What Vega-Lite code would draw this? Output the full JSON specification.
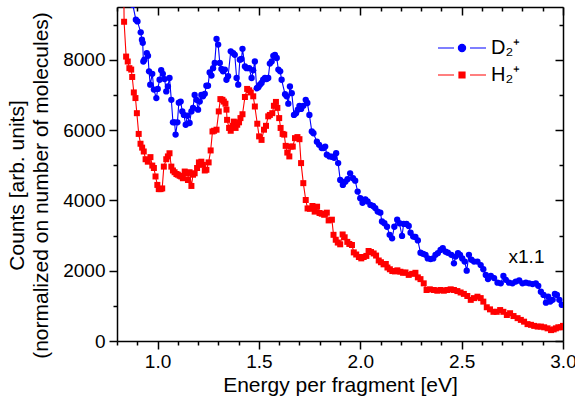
{
  "$schema": "https://vega.github.io/schema/vega-lite/v6.json",
  "width": 446,
  "height": 334,
  "autosize": {"type": "none"},
  "padding": {"left": 117, "top": 7, "right": 12, "bottom": 60},
  "background": "white",
  "config": {
    "view": {"stroke": null},
    "axis": {
      "labelFont": "Liberation Sans", "titleFont": "Liberation Sans",
      "labelFontSize": 19, "titleFontSize": 21, "titleFontWeight": "normal",
      "domainColor": "black", "tickColor": "black", "labelColor": "black", "titleColor": "black",
      "grid": false, "domainWidth": 1.5, "tickWidth": 1.5
    }
  },
  "datasets": {
    "spectra": [
      {"s":"D₂⁺","E":0.862,"v":9900},{"s":"D₂⁺","E":0.878,"v":9560},{"s":"D₂⁺","E":0.893,"v":9140},{"s":"D₂⁺","E":0.901,"v":9090},
      {"s":"D₂⁺","E":0.917,"v":8780},{"s":"D₂⁺","E":0.923,"v":8570},{"s":"D₂⁺","E":0.927,"v":8480},{"s":"D₂⁺","E":0.930,"v":7950},
      {"s":"D₂⁺","E":0.935,"v":8000},{"s":"D₂⁺","E":0.947,"v":8190},{"s":"D₂⁺","E":0.953,"v":8110},{"s":"D₂⁺","E":0.958,"v":7670},
      {"s":"D₂⁺","E":0.964,"v":7290},{"s":"D₂⁺","E":0.974,"v":7600},{"s":"D₂⁺","E":0.982,"v":7150},{"s":"D₂⁺","E":0.994,"v":6910},
      {"s":"D₂⁺","E":1.001,"v":7170},{"s":"D₂⁺","E":1.010,"v":7430},{"s":"D₂⁺","E":1.018,"v":7700},{"s":"D₂⁺","E":1.026,"v":7600},
      {"s":"D₂⁺","E":1.035,"v":7450},{"s":"D₂⁺","E":1.043,"v":7100},{"s":"D₂⁺","E":1.051,"v":7240},{"s":"D₂⁺","E":1.059,"v":7480},
      {"s":"D₂⁺","E":1.068,"v":6860},{"s":"D₂⁺","E":1.076,"v":6220},{"s":"D₂⁺","E":1.084,"v":6220},{"s":"D₂⁺","E":1.089,"v":5870},
      {"s":"D₂⁺","E":1.098,"v":6220},{"s":"D₂⁺","E":1.105,"v":6780},{"s":"D₂⁺","E":1.114,"v":6810},{"s":"D₂⁺","E":1.122,"v":6530},
      {"s":"D₂⁺","E":1.130,"v":6430},{"s":"D₂⁺","E":1.139,"v":6150},{"s":"D₂⁺","E":1.147,"v":6410},{"s":"D₂⁺","E":1.158,"v":6200},
      {"s":"D₂⁺","E":1.167,"v":6530},{"s":"D₂⁺","E":1.175,"v":6630},{"s":"D₂⁺","E":1.183,"v":7000},{"s":"D₂⁺","E":1.192,"v":6860},
      {"s":"D₂⁺","E":1.200,"v":6580},{"s":"D₂⁺","E":1.208,"v":6810},{"s":"D₂⁺","E":1.216,"v":7000},{"s":"D₂⁺","E":1.224,"v":6960},
      {"s":"D₂⁺","E":1.233,"v":7030},{"s":"D₂⁺","E":1.241,"v":7260},{"s":"D₂⁺","E":1.249,"v":7260},{"s":"D₂⁺","E":1.257,"v":7640},
      {"s":"D₂⁺","E":1.266,"v":7550},{"s":"D₂⁺","E":1.274,"v":7760},{"s":"D₂⁺","E":1.282,"v":7910},{"s":"D₂⁺","E":1.291,"v":8590},
      {"s":"D₂⁺","E":1.299,"v":8430},{"s":"D₂⁺","E":1.307,"v":7910},{"s":"D₂⁺","E":1.315,"v":7740},{"s":"D₂⁺","E":1.323,"v":7670},
      {"s":"D₂⁺","E":1.332,"v":7720},{"s":"D₂⁺","E":1.340,"v":7430},{"s":"D₂⁺","E":1.348,"v":7530},{"s":"D₂⁺","E":1.361,"v":8240},
      {"s":"D₂⁺","E":1.373,"v":8190},{"s":"D₂⁺","E":1.381,"v":8140},{"s":"D₂⁺","E":1.390,"v":7480},{"s":"D₂⁺","E":1.398,"v":7290},
      {"s":"D₂⁺","E":1.406,"v":8000},{"s":"D₂⁺","E":1.414,"v":8020},{"s":"D₂⁺","E":1.419,"v":8310},{"s":"D₂⁺","E":1.431,"v":7810},
      {"s":"D₂⁺","E":1.439,"v":7760},{"s":"D₂⁺","E":1.452,"v":7760},{"s":"D₂⁺","E":1.464,"v":7480},{"s":"D₂⁺","E":1.472,"v":7700},
      {"s":"D₂⁺","E":1.480,"v":7950},{"s":"D₂⁺","E":1.489,"v":7190},{"s":"D₂⁺","E":1.497,"v":7220},{"s":"D₂⁺","E":1.505,"v":7290},
      {"s":"D₂⁺","E":1.513,"v":7340},{"s":"D₂⁺","E":1.521,"v":7430},{"s":"D₂⁺","E":1.530,"v":7480},{"s":"D₂⁺","E":1.538,"v":7450},
      {"s":"D₂⁺","E":1.546,"v":7480},{"s":"D₂⁺","E":1.554,"v":7890},{"s":"D₂⁺","E":1.563,"v":7950},{"s":"D₂⁺","E":1.571,"v":8110},
      {"s":"D₂⁺","E":1.579,"v":8140},{"s":"D₂⁺","E":1.588,"v":8050},{"s":"D₂⁺","E":1.596,"v":7720},{"s":"D₂⁺","E":1.605,"v":7670},
      {"s":"D₂⁺","E":1.612,"v":7430},{"s":"D₂⁺","E":1.629,"v":7020},{"s":"D₂⁺","E":1.637,"v":6960},{"s":"D₂⁺","E":1.645,"v":6750},
      {"s":"D₂⁺","E":1.653,"v":7240},{"s":"D₂⁺","E":1.662,"v":7050},{"s":"D₂⁺","E":1.673,"v":6430},{"s":"D₂⁺","E":1.683,"v":6480},
      {"s":"D₂⁺","E":1.692,"v":6580},{"s":"D₂⁺","E":1.700,"v":6690},{"s":"D₂⁺","E":1.708,"v":6600},{"s":"D₂⁺","E":1.719,"v":6690},
      {"s":"D₂⁺","E":1.731,"v":6860},{"s":"D₂⁺","E":1.739,"v":6770},{"s":"D₂⁺","E":1.749,"v":6430},{"s":"D₂⁺","E":1.761,"v":5960},
      {"s":"D₂⁺","E":1.769,"v":5910},{"s":"D₂⁺","E":1.786,"v":5670},{"s":"D₂⁺","E":1.797,"v":5580},{"s":"D₂⁺","E":1.810,"v":5490},
      {"s":"D₂⁺","E":1.819,"v":5490},{"s":"D₂⁺","E":1.827,"v":5530},{"s":"D₂⁺","E":1.835,"v":5300},{"s":"D₂⁺","E":1.848,"v":5250},
      {"s":"D₂⁺","E":1.860,"v":5240},{"s":"D₂⁺","E":1.871,"v":5210},{"s":"D₂⁺","E":1.881,"v":5340},{"s":"D₂⁺","E":1.891,"v":5060},
      {"s":"D₂⁺","E":1.901,"v":4580},{"s":"D₂⁺","E":1.914,"v":4440},{"s":"D₂⁺","E":1.926,"v":4530},{"s":"D₂⁺","E":1.937,"v":4600},
      {"s":"D₂⁺","E":1.950,"v":4770},{"s":"D₂⁺","E":1.964,"v":4630},{"s":"D₂⁺","E":1.975,"v":4560},{"s":"D₂⁺","E":1.987,"v":4250},
      {"s":"D₂⁺","E":2.000,"v":4060},{"s":"D₂⁺","E":2.011,"v":3930},{"s":"D₂⁺","E":2.025,"v":4030},{"s":"D₂⁺","E":2.036,"v":3970},
      {"s":"D₂⁺","E":2.050,"v":3870},{"s":"D₂⁺","E":2.063,"v":3840},{"s":"D₂⁺","E":2.074,"v":3780},{"s":"D₂⁺","E":2.086,"v":3680},
      {"s":"D₂⁺","E":2.099,"v":3650},{"s":"D₂⁺","E":2.107,"v":3400},{"s":"D₂⁺","E":2.119,"v":3350},{"s":"D₂⁺","E":2.132,"v":3250},
      {"s":"D₂⁺","E":2.145,"v":3020},{"s":"D₂⁺","E":2.157,"v":2920},{"s":"D₂⁺","E":2.168,"v":3250},{"s":"D₂⁺","E":2.182,"v":3450},
      {"s":"D₂⁺","E":2.193,"v":3350},{"s":"D₂⁺","E":2.206,"v":2990},{"s":"D₂⁺","E":2.214,"v":3330},{"s":"D₂⁺","E":2.228,"v":3330},
      {"s":"D₂⁺","E":2.239,"v":3270},{"s":"D₂⁺","E":2.248,"v":3080},{"s":"D₂⁺","E":2.261,"v":2970},{"s":"D₂⁺","E":2.272,"v":2960},
      {"s":"D₂⁺","E":2.284,"v":2860},{"s":"D₂⁺","E":2.297,"v":2510},{"s":"D₂⁺","E":2.310,"v":2480},{"s":"D₂⁺","E":2.322,"v":2450},
      {"s":"D₂⁺","E":2.333,"v":2350},{"s":"D₂⁺","E":2.347,"v":2330},{"s":"D₂⁺","E":2.360,"v":2350},{"s":"D₂⁺","E":2.371,"v":2450},
      {"s":"D₂⁺","E":2.383,"v":2500},{"s":"D₂⁺","E":2.396,"v":2590},{"s":"D₂⁺","E":2.407,"v":2640},{"s":"D₂⁺","E":2.421,"v":2540},
      {"s":"D₂⁺","E":2.432,"v":2510},{"s":"D₂⁺","E":2.449,"v":2450},{"s":"D₂⁺","E":2.462,"v":2210},{"s":"D₂⁺","E":2.470,"v":2400},
      {"s":"D₂⁺","E":2.482,"v":2500},{"s":"D₂⁺","E":2.492,"v":2450},{"s":"D₂⁺","E":2.503,"v":2350},{"s":"D₂⁺","E":2.515,"v":2260},
      {"s":"D₂⁺","E":2.525,"v":2000},{"s":"D₂⁺","E":2.536,"v":2450},{"s":"D₂⁺","E":2.548,"v":2310},{"s":"D₂⁺","E":2.561,"v":2260},
      {"s":"D₂⁺","E":2.578,"v":2260},{"s":"D₂⁺","E":2.594,"v":2160},{"s":"D₂⁺","E":2.607,"v":2040},{"s":"D₂⁺","E":2.619,"v":1880},
      {"s":"D₂⁺","E":2.630,"v":1760},{"s":"D₂⁺","E":2.644,"v":1850},{"s":"D₂⁺","E":2.660,"v":1790},{"s":"D₂⁺","E":2.677,"v":1660},
      {"s":"D₂⁺","E":2.693,"v":1640},{"s":"D₂⁺","E":2.706,"v":1850},{"s":"D₂⁺","E":2.718,"v":1740},{"s":"D₂⁺","E":2.734,"v":1660},
      {"s":"D₂⁺","E":2.751,"v":1640},{"s":"D₂⁺","E":2.767,"v":1690},{"s":"D₂⁺","E":2.784,"v":1720},{"s":"D₂⁺","E":2.800,"v":1640},
      {"s":"D₂⁺","E":2.817,"v":1660},{"s":"D₂⁺","E":2.833,"v":1640},{"s":"D₂⁺","E":2.850,"v":1620},{"s":"D₂⁺","E":2.866,"v":1640},
      {"s":"D₂⁺","E":2.878,"v":1570},{"s":"D₂⁺","E":2.891,"v":1400},{"s":"D₂⁺","E":2.904,"v":1310},{"s":"D₂⁺","E":2.916,"v":1090},
      {"s":"D₂⁺","E":2.927,"v":1260},{"s":"D₂⁺","E":2.937,"v":1120},{"s":"D₂⁺","E":2.949,"v":1170},{"s":"D₂⁺","E":2.960,"v":1340},
      {"s":"D₂⁺","E":2.970,"v":1310},{"s":"D₂⁺","E":2.982,"v":1170},{"s":"D₂⁺","E":2.994,"v":1030},
      {"s":"H₂⁺","E":0.832,"v":11000},{"s":"H₂⁺","E":0.835,"v":9080},{"s":"H₂⁺","E":0.845,"v":8090},{"s":"H₂⁺","E":0.853,"v":7950},
      {"s":"H₂⁺","E":0.861,"v":7760},{"s":"H₂⁺","E":0.870,"v":7720},{"s":"H₂⁺","E":0.875,"v":7510},{"s":"H₂⁺","E":0.883,"v":7070},
      {"s":"H₂⁺","E":0.891,"v":6910},{"s":"H₂⁺","E":0.898,"v":6480},{"s":"H₂⁺","E":0.907,"v":5890},{"s":"H₂⁺","E":0.916,"v":5610},
      {"s":"H₂⁺","E":0.924,"v":5500},{"s":"H₂⁺","E":0.932,"v":5390},{"s":"H₂⁺","E":0.941,"v":5170},{"s":"H₂⁺","E":0.952,"v":5100},
      {"s":"H₂⁺","E":0.965,"v":5230},{"s":"H₂⁺","E":0.974,"v":4990},{"s":"H₂⁺","E":0.982,"v":4920},{"s":"H₂⁺","E":0.990,"v":4680},
      {"s":"H₂⁺","E":0.999,"v":4440},{"s":"H₂⁺","E":1.006,"v":4320},{"s":"H₂⁺","E":1.015,"v":4320},{"s":"H₂⁺","E":1.023,"v":4340},
      {"s":"H₂⁺","E":1.031,"v":4960},{"s":"H₂⁺","E":1.043,"v":5170},{"s":"H₂⁺","E":1.051,"v":5250},{"s":"H₂⁺","E":1.059,"v":5340},
      {"s":"H₂⁺","E":1.068,"v":4960},{"s":"H₂⁺","E":1.076,"v":4850},{"s":"H₂⁺","E":1.084,"v":4800},{"s":"H₂⁺","E":1.093,"v":4750},
      {"s":"H₂⁺","E":1.100,"v":4730},{"s":"H₂⁺","E":1.109,"v":4700},{"s":"H₂⁺","E":1.117,"v":4680},{"s":"H₂⁺","E":1.125,"v":4630},
      {"s":"H₂⁺","E":1.134,"v":4820},{"s":"H₂⁺","E":1.142,"v":4770},{"s":"H₂⁺","E":1.150,"v":4580},{"s":"H₂⁺","E":1.158,"v":4800},
      {"s":"H₂⁺","E":1.167,"v":4410},{"s":"H₂⁺","E":1.175,"v":4730},{"s":"H₂⁺","E":1.183,"v":4770},{"s":"H₂⁺","E":1.195,"v":4920},
      {"s":"H₂⁺","E":1.204,"v":5080},{"s":"H₂⁺","E":1.216,"v":5100},{"s":"H₂⁺","E":1.224,"v":5010},{"s":"H₂⁺","E":1.233,"v":4850},
      {"s":"H₂⁺","E":1.241,"v":4870},{"s":"H₂⁺","E":1.252,"v":5080},{"s":"H₂⁺","E":1.262,"v":5420},{"s":"H₂⁺","E":1.271,"v":5960},
      {"s":"H₂⁺","E":1.279,"v":5980},{"s":"H₂⁺","E":1.291,"v":6010},{"s":"H₂⁺","E":1.302,"v":6530},{"s":"H₂⁺","E":1.310,"v":6880},
      {"s":"H₂⁺","E":1.320,"v":6860},{"s":"H₂⁺","E":1.327,"v":6810},{"s":"H₂⁺","E":1.335,"v":6750},{"s":"H₂⁺","E":1.340,"v":6580},
      {"s":"H₂⁺","E":1.343,"v":6290},{"s":"H₂⁺","E":1.353,"v":6060},{"s":"H₂⁺","E":1.361,"v":5980},{"s":"H₂⁺","E":1.370,"v":6120},
      {"s":"H₂⁺","E":1.376,"v":6240},{"s":"H₂⁺","E":1.385,"v":6060},{"s":"H₂⁺","E":1.393,"v":6150},{"s":"H₂⁺","E":1.402,"v":6220},
      {"s":"H₂⁺","E":1.409,"v":6340},{"s":"H₂⁺","E":1.419,"v":6450},{"s":"H₂⁺","E":1.431,"v":6940},{"s":"H₂⁺","E":1.442,"v":7170},
      {"s":"H₂⁺","E":1.452,"v":7130},{"s":"H₂⁺","E":1.460,"v":7070},{"s":"H₂⁺","E":1.472,"v":6960},{"s":"H₂⁺","E":1.480,"v":6670},
      {"s":"H₂⁺","E":1.492,"v":6180},{"s":"H₂⁺","E":1.501,"v":5820},{"s":"H₂⁺","E":1.513,"v":5720},{"s":"H₂⁺","E":1.525,"v":6010},
      {"s":"H₂⁺","E":1.535,"v":6120},{"s":"H₂⁺","E":1.546,"v":6390},{"s":"H₂⁺","E":1.554,"v":6430},{"s":"H₂⁺","E":1.566,"v":6480},
      {"s":"H₂⁺","E":1.574,"v":6690},{"s":"H₂⁺","E":1.584,"v":6800},{"s":"H₂⁺","E":1.591,"v":6630},{"s":"H₂⁺","E":1.600,"v":6340},
      {"s":"H₂⁺","E":1.607,"v":6060},{"s":"H₂⁺","E":1.617,"v":5890},{"s":"H₂⁺","E":1.625,"v":5870},{"s":"H₂⁺","E":1.632,"v":5550},
      {"s":"H₂⁺","E":1.640,"v":5360},{"s":"H₂⁺","E":1.650,"v":5250},{"s":"H₂⁺","E":1.657,"v":5530},{"s":"H₂⁺","E":1.667,"v":5530},
      {"s":"H₂⁺","E":1.678,"v":5770},{"s":"H₂⁺","E":1.690,"v":5800},{"s":"H₂⁺","E":1.700,"v":5740},{"s":"H₂⁺","E":1.708,"v":5060},
      {"s":"H₂⁺","E":1.719,"v":4490},{"s":"H₂⁺","E":1.731,"v":4010},{"s":"H₂⁺","E":1.740,"v":3770},{"s":"H₂⁺","E":1.752,"v":3760},
      {"s":"H₂⁺","E":1.764,"v":3840},{"s":"H₂⁺","E":1.775,"v":3680},{"s":"H₂⁺","E":1.787,"v":3820},{"s":"H₂⁺","E":1.799,"v":3640},
      {"s":"H₂⁺","E":1.810,"v":3620},{"s":"H₂⁺","E":1.822,"v":3590},{"s":"H₂⁺","E":1.835,"v":3650},{"s":"H₂⁺","E":1.844,"v":3430},
      {"s":"H₂⁺","E":1.860,"v":3450},{"s":"H₂⁺","E":1.868,"v":3020},{"s":"H₂⁺","E":1.879,"v":2880},{"s":"H₂⁺","E":1.889,"v":2800},
      {"s":"H₂⁺","E":1.901,"v":2750},{"s":"H₂⁺","E":1.913,"v":3030},{"s":"H₂⁺","E":1.923,"v":2950},{"s":"H₂⁺","E":1.936,"v":2820},
      {"s":"H₂⁺","E":1.946,"v":2760},{"s":"H₂⁺","E":1.959,"v":2730},{"s":"H₂⁺","E":1.968,"v":2520},{"s":"H₂⁺","E":1.980,"v":2460},
      {"s":"H₂⁺","E":1.993,"v":2390},{"s":"H₂⁺","E":2.005,"v":2350},{"s":"H₂⁺","E":2.017,"v":2390},{"s":"H₂⁺","E":2.030,"v":2420},
      {"s":"H₂⁺","E":2.041,"v":2560},{"s":"H₂⁺","E":2.053,"v":2530},{"s":"H₂⁺","E":2.066,"v":2490},{"s":"H₂⁺","E":2.078,"v":2430},
      {"s":"H₂⁺","E":2.091,"v":2290},{"s":"H₂⁺","E":2.102,"v":2240},{"s":"H₂⁺","E":2.115,"v":2180},{"s":"H₂⁺","E":2.126,"v":2190},
      {"s":"H₂⁺","E":2.134,"v":2090},{"s":"H₂⁺","E":2.146,"v":2040},{"s":"H₂⁺","E":2.158,"v":1990},{"s":"H₂⁺","E":2.171,"v":1980},
      {"s":"H₂⁺","E":2.183,"v":2010},{"s":"H₂⁺","E":2.198,"v":1970},{"s":"H₂⁺","E":2.211,"v":1940},{"s":"H₂⁺","E":2.223,"v":1950},
      {"s":"H₂⁺","E":2.239,"v":1880},{"s":"H₂⁺","E":2.256,"v":1910},{"s":"H₂⁺","E":2.272,"v":1940},{"s":"H₂⁺","E":2.284,"v":1810},
      {"s":"H₂⁺","E":2.297,"v":1760},{"s":"H₂⁺","E":2.313,"v":1640},{"s":"H₂⁺","E":2.327,"v":1450},{"s":"H₂⁺","E":2.343,"v":1470},
      {"s":"H₂⁺","E":2.363,"v":1450},{"s":"H₂⁺","E":2.380,"v":1430},{"s":"H₂⁺","E":2.396,"v":1450},{"s":"H₂⁺","E":2.412,"v":1430},
      {"s":"H₂⁺","E":2.429,"v":1450},{"s":"H₂⁺","E":2.446,"v":1470},{"s":"H₂⁺","E":2.462,"v":1450},{"s":"H₂⁺","E":2.479,"v":1420},
      {"s":"H₂⁺","E":2.495,"v":1380},{"s":"H₂⁺","E":2.511,"v":1340},{"s":"H₂⁺","E":2.528,"v":1280},{"s":"H₂⁺","E":2.545,"v":1170},
      {"s":"H₂⁺","E":2.561,"v":1220},{"s":"H₂⁺","E":2.578,"v":1260},{"s":"H₂⁺","E":2.594,"v":1220},{"s":"H₂⁺","E":2.607,"v":1120},
      {"s":"H₂⁺","E":2.624,"v":960},{"s":"H₂⁺","E":2.640,"v":900},{"s":"H₂⁺","E":2.657,"v":830},{"s":"H₂⁺","E":2.673,"v":830},
      {"s":"H₂⁺","E":2.690,"v":880},{"s":"H₂⁺","E":2.706,"v":830},{"s":"H₂⁺","E":2.723,"v":740},{"s":"H₂⁺","E":2.739,"v":790},
      {"s":"H₂⁺","E":2.756,"v":710},{"s":"H₂⁺","E":2.776,"v":650},{"s":"H₂⁺","E":2.792,"v":600},{"s":"H₂⁺","E":2.808,"v":550},
      {"s":"H₂⁺","E":2.825,"v":480},{"s":"H₂⁺","E":2.842,"v":460},{"s":"H₂⁺","E":2.858,"v":430},{"s":"H₂⁺","E":2.875,"v":410},
      {"s":"H₂⁺","E":2.891,"v":410},{"s":"H₂⁺","E":2.907,"v":390},{"s":"H₂⁺","E":2.924,"v":360},{"s":"H₂⁺","E":2.941,"v":310},
      {"s":"H₂⁺","E":2.954,"v":330},{"s":"H₂⁺","E":2.965,"v":360},{"s":"H₂⁺","E":2.977,"v":390},{"s":"H₂⁺","E":2.990,"v":390},
      {"s":"H₂⁺","E":3.000,"v":430}
    ],
    "notes": [{"E": 2.82, "v": 2390, "t": "x1.1"}]
  },
  "layer": [
    {
      "data": {"name": "spectra"},
      "mark": {"type": "line", "clip": true, "strokeWidth": 1.1},
      "encoding": {
        "x": {"field": "E", "type": "quantitative",
              "scale": {"domain": [0.8, 3.0], "nice": false, "zero": false},
              "axis": {"orient": "bottom", "title": "Energy per fragment [eV]", "titlePadding": 3,
                       "values": [0.8,0.9,1.0,1.1,1.2,1.3,1.4,1.5,1.6,1.7,1.8,1.9,2.0,2.1,2.2,2.3,2.4,2.5,2.6,2.7,2.8,2.9,3.0],
                       "labelExpr": "abs(datum.value*2 - round(datum.value*2)) < 0.001 ? format(datum.value, '.1f') : ''",
                       "tickSize": {"condition": {"test": "abs(datum.value*2 - round(datum.value*2)) < 0.001", "value": 8}, "value": 4},
                       "labelPadding": 3, "labelOverlap": false, "labelFlush": false}},
        "y": {"field": "v", "type": "quantitative",
              "scale": {"domain": [0, 9500], "nice": false, "zero": false},
              "axis": {"orient": "left", "title": ["Counts [arb. units]", "(normalized on number of molecules)"],
                       "titleLineHeight": 24, "titlePadding": 11, "titleY": 178,
                       "values": [0,1000,2000,3000,4000,5000,6000,7000,8000,9000],
                       "labelExpr": "datum.value % 2000 === 0 ? '' + datum.value : ''",
                       "tickSize": {"condition": {"test": "datum.value % 2000 === 0", "value": 8}, "value": 4},
                       "labelPadding": 4, "labelOverlap": false, "labelFlush": false}},
        "color": {"field": "s", "type": "nominal",
                  "scale": {"domain": ["D₂⁺", "H₂⁺"], "range": ["#0000ff", "#ff0000"]},
                  "legend": {"orient": "none", "legendX": 335, "legendY": 31, "title": null,
                             "labelFont": "Liberation Sans", "labelFontSize": 20, "labelColor": "black",
                             "labelOffset": 19, "symbolSize": 64, "rowPadding": 7, "symbolStrokeWidth": 1.2}},
        "shape": {"field": "s", "type": "nominal",
                  "scale": {"domain": ["D₂⁺", "H₂⁺"],
                            "range": ["M-6,0H-2M2,0H6M-0.9,0A0.9,0.9 0 1,0 0.9,0A0.9,0.9 0 1,0 -0.9,0Z",
                                      "M-6,0H-2M2,0H6M-0.75,-0.75H0.75V0.75H-0.75Z"]},
                  "legend": {"orient": "none", "legendX": 335, "legendY": 31, "title": null,
                             "labelFont": "Liberation Sans", "labelFontSize": 20, "labelColor": "black",
                             "labelOffset": 19, "symbolSize": 64, "rowPadding": 7, "symbolStrokeWidth": 1.2}}
      }
    },
    {
      "data": {"name": "spectra"},
      "transform": [{"filter": "datum.s === 'D₂⁺'"}],
      "mark": {"type": "point", "shape": "circle", "filled": true, "clip": true, "size": 40, "opacity": 1, "color": "#0000ff"},
      "encoding": {
        "x": {"field": "E", "type": "quantitative",
              "scale": {"domain": [0.8, 3.0], "nice": false, "zero": false},
              "axis": {"orient": "top", "title": "", "labelOpacity": 0, "domain": true, "offset": 0,
                       "values": [0.8,0.9,1.0,1.1,1.2,1.3,1.4,1.5,1.6,1.7,1.8,1.9,2.0,2.1,2.2,2.3,2.4,2.5,2.6,2.7,2.8,2.9,3.0],
                       "tickSize": {"condition": {"test": "abs(datum.value*2 - round(datum.value*2)) < 0.001", "value": -8}, "value": -4}}},
        "y": {"field": "v", "type": "quantitative",
              "scale": {"domain": [0, 9500], "nice": false, "zero": false},
              "axis": {"orient": "right", "title": "", "labelOpacity": 0, "domain": true, "offset": 0,
                       "values": [0,1000,2000,3000,4000,5000,6000,7000,8000,9000],
                       "tickSize": {"condition": {"test": "datum.value % 2000 === 0", "value": -8}, "value": -4}}}
      }
    },
    {
      "data": {"name": "spectra"},
      "transform": [{"filter": "datum.s === 'H₂⁺'"}],
      "mark": {"type": "point", "shape": "square", "filled": true, "clip": true, "size": 36, "opacity": 1, "color": "#ff0000"},
      "encoding": {
        "x": {"field": "E", "type": "quantitative",
              "scale": {"domain": [0.8, 3.0], "nice": false, "zero": false}, "axis": null},
        "y": {"field": "v", "type": "quantitative",
              "scale": {"domain": [0, 9500], "nice": false, "zero": false}, "axis": null}
      }
    },
    {
      "data": {"name": "notes"},
      "mark": {"type": "text", "font": "Liberation Sans", "fontSize": 19, "color": "black", "align": "center", "baseline": "middle"},
      "encoding": {
        "x": {"field": "E", "type": "quantitative", "scale": {"domain": [0.8, 3.0], "nice": false, "zero": false}, "axis": null},
        "y": {"field": "v", "type": "quantitative", "scale": {"domain": [0, 9500], "nice": false, "zero": false}, "axis": null},
        "text": {"field": "t"}
      }
    }
  ],
  "resolve": {"scale": {"x": "independent", "y": "independent"}, "axis": {"x": "independent", "y": "independent"}}
}
